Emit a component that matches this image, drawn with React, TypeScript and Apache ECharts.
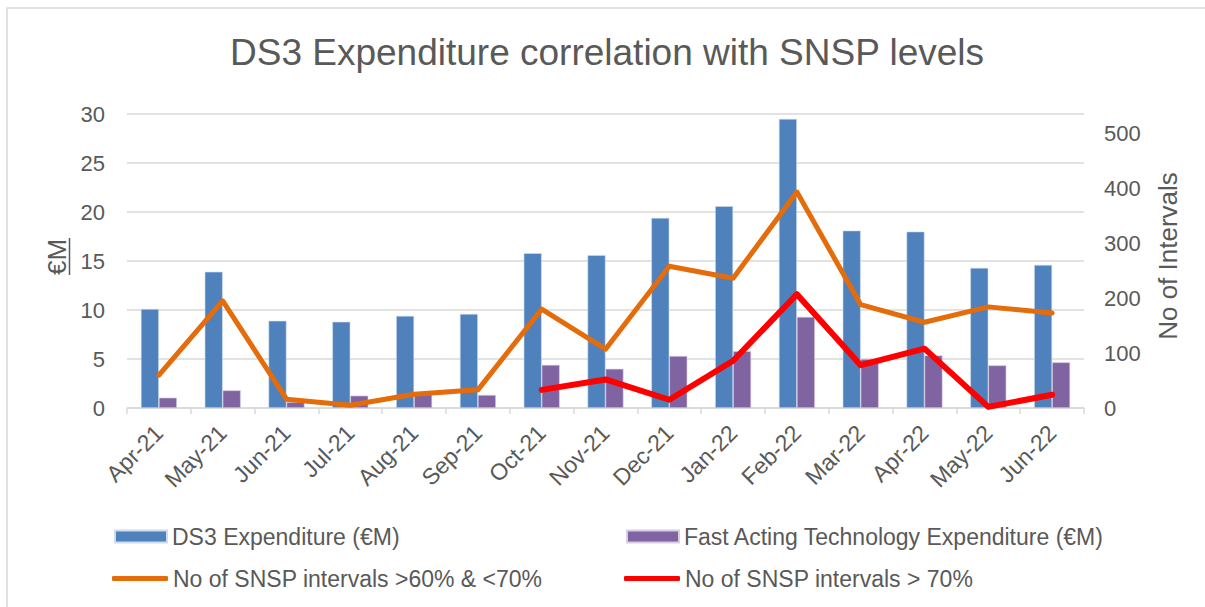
import React, { useEffect, useRef } from "react";
import * as echarts from "echarts";

const months = ["Apr-21","May-21","Jun-21","Jul-21","Aug-21","Sep-21","Oct-21","Nov-21","Dec-21","Jan-22","Feb-22","Mar-22","Apr-22","May-22","Jun-22"];
const ds3Expenditure = [10.1, 13.9, 8.9, 8.8, 9.4, 9.6, 15.8, 15.6, 19.4, 20.6, 29.5, 18.1, 18.0, 14.3, 14.6];
const fastActingExpenditure = [1.05, 1.8, 0.6, 1.26, 1.4, 1.33, 4.4, 4.0, 5.3, 5.8, 9.3, 5.0, 5.37, 4.35, 4.66];
const snsp60to70 = [60, 195, 16, 5, 25, 33, 180, 107, 258, 236, 393, 188, 156, 184, 173];
const snspAbove70 = [null, null, null, null, null, null, 33, 52, 15, 86, 207, 78, 108, 2, 24];
const leftTicks = { min: 0, max: 30, interval: 5 };
const rightTicks = { min: 0, max: 535, interval: 100 };

const names = [
  "DS3 Expenditure (€M)",
  "Fast Acting Technology Expenditure (€M)",
  "No of SNSP intervals >60% & <70%",
  "No of SNSP intervals > 70%",
];

const FONT = "'Liberation Sans', Arial, sans-serif";
const GREY = "#595959";

export default function App() {
  const ref = useRef<HTMLDivElement>(null);
  useEffect(() => {
    if (!ref.current) return;
    const chart = echarts.init(ref.current, undefined, { renderer: "svg" });
    const legendText = { color: GREY, fontSize: 23, fontFamily: FONT };
    chart.setOption({
      animation: false,
      backgroundColor: "#ffffff",
      textStyle: { fontFamily: FONT },
      title: {
        text: "DS3 Expenditure correlation with SNSP levels",
        left: 230,
        top: 34,
        padding: 0,
        textStyle: { color: GREY, fontSize: 37, fontWeight: "normal", fontFamily: FONT },
      },
      grid: { left: 127, right: 121, top: 114, bottom: 199, containLabel: false },
      legend: [
        { data: [names[0]], left: 114, top: 525, itemWidth: 52, itemHeight: 12, icon: "rect", itemGap: 0, textStyle: legendText, padding: 0 },
        { data: [names[1]], left: 626, top: 525, itemWidth: 52, itemHeight: 12, icon: "rect", itemGap: 0, textStyle: legendText, padding: 0 },
        { data: [names[2]], left: 112, top: 567, itemWidth: 56, itemHeight: 5, icon: "roundRect", itemGap: 0, textStyle: legendText, padding: 0 },
        { data: [names[3]], left: 624, top: 567, itemWidth: 56, itemHeight: 5, icon: "roundRect", itemGap: 0, textStyle: legendText, padding: 0 },
      ],
      xAxis: {
        type: "category",
        data: months,
        boundaryGap: true,
        axisLine: { show: true, lineStyle: { color: "#D9D9D9", width: 1.5 } },
        axisTick: { show: true, length: 6, lineStyle: { color: "#D9D9D9", width: 1.5 } },
        axisLabel: { rotate: 45, color: GREY, fontSize: 23, fontFamily: FONT, margin: 21, interval: 0 },
      },
      yAxis: [
        {
          type: "value",
          min: leftTicks.min,
          max: leftTicks.max,
          interval: leftTicks.interval,
          axisLine: { show: false },
          axisTick: { show: false },
          splitLine: { show: true, lineStyle: { color: "#D9D9D9", width: 1.5 } },
          axisLabel: { color: GREY, fontSize: 22, fontFamily: FONT, margin: 22 },
        },
        {
          type: "value",
          min: rightTicks.min,
          max: rightTicks.max,
          interval: rightTicks.interval,
          axisLine: { show: false },
          axisTick: { show: false },
          splitLine: { show: false },
          axisLabel: { color: GREY, fontSize: 22, fontFamily: FONT, margin: 20, showMaxLabel: false },
        },
      ],
      graphic: [
        { type: "polyline", shape: { points: [[7, 607], [7, 8], [1205, 8]] }, style: { stroke: "#D9D9D9", lineWidth: 1.5, fill: "none" }, silent: true },
        { type: "text", x: 57, y: 257, rotation: Math.PI / 2, style: { text: "€M", fill: GREY, fontSize: 26, fontFamily: FONT, align: "center", verticalAlign: "middle" } },
        { type: "line", shape: { x1: 69.5, y1: 238, x2: 69.5, y2: 275 }, style: { stroke: GREY, lineWidth: 1.5 } },
        { type: "text", x: 1168, y: 256, rotation: Math.PI / 2, style: { text: "No of Intervals", fill: GREY, fontSize: 26, fontFamily: FONT, align: "center", verticalAlign: "middle" } },
      ],
      series: [
        {
          name: names[0],
          type: "bar",
          data: ds3Expenditure,
          yAxisIndex: 0,
          barWidth: 18,
          barGap: "0%",
          itemStyle: { color: "#4F81BD", borderColor: "#D0DCEB", borderWidth: 0.6 },
        },
        {
          name: names[1],
          type: "bar",
          data: fastActingExpenditure,
          yAxisIndex: 0,
          barWidth: 18,
          barGap: "0%",
          itemStyle: { color: "#8064A2", borderColor: "#D8CDE3", borderWidth: 0.6 },
        },
        {
          name: names[2],
          type: "line",
          data: snsp60to70,
          yAxisIndex: 1,
          symbol: "none",
          lineStyle: { color: "#E46C0A", width: 5, cap: "round", join: "round" },
          itemStyle: { color: "#E46C0A" },
        },
        {
          name: names[3],
          type: "line",
          data: snspAbove70,
          yAxisIndex: 1,
          symbol: "none",
          connectNulls: false,
          lineStyle: { color: "#FF0000", width: 6, cap: "round", join: "round" },
          itemStyle: { color: "#FF0000" },
        },
      ],
    });
    return () => chart.dispose();
  }, []);
  return <div ref={ref} style={{ position: "fixed", left: 0, top: 0, width: 1205, height: 607 }} />;
}
